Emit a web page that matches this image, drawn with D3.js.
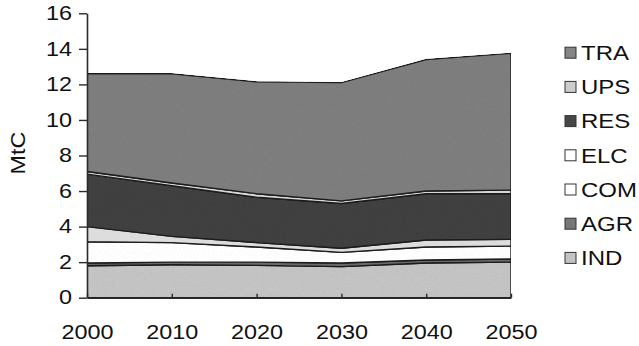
<!DOCTYPE html>
<html>
<head>
<meta charset="utf-8">
<script src="https://cdn.jsdelivr.net/npm/d3@7"></script>
<style>
  body { margin: 0; background: #fff; }
  text { font-family: "Liberation Sans", Arial, Helvetica, sans-serif; fill: #111; }
</style>
</head>
<body>
<svg id="chart" width="639" height="346"></svg>
<script>
// years on the x axis
var years = [2000, 2010, 2020, 2030, 2040, 2050];
// stacking order, bottom to top
var sectors = ["IND", "AGR", "COM", "ELC", "RES", "UPS", "TRA"];
// MtC per sector
var IND = [1.80, 1.85, 1.82, 1.75, 1.95, 2.00];
var AGR = [0.15, 0.15, 0.18, 0.20, 0.17, 0.18];
var COM = [1.20, 1.10, 0.85, 0.60, 0.73, 0.72];
var ELC = [0.85, 0.35, 0.25, 0.23, 0.40, 0.38];
var RES = [2.95, 2.85, 2.55, 2.52, 2.60, 2.57];
var UPS = [0.15, 0.15, 0.20, 0.15, 0.15, 0.20];
var TRA = [5.50, 6.15, 6.30, 6.65, 7.40, 7.70];
var yTicks = [0, 2, 4, 6, 8, 10, 12, 14, 16];

var series = {IND: IND, AGR: AGR, COM: COM, ELC: ELC, RES: RES, UPS: UPS, TRA: TRA};
var data = years.map(function(yr, i) {
	var row = {year: yr};
	sectors.forEach(function(k) { row[k] = series[k][i]; });
	return row;
});

var fills = {
	IND: "#c4c4c4", AGR: "#6a6a6a", COM: "#ffffff", ELC: "#dedede",
	RES: "#404040", UPS: "#d8d8d8", TRA: "#7e7e7e"
};
var legendFills = {
	IND: "#c4c4c4", AGR: "#777777", COM: "#ffffff", ELC: "#ffffff",
	RES: "#474747", UPS: "#cccccc", TRA: "#858585"
};
var stretch = 1.2;

var svg = d3.select("#chart");

// light speckle like the scanned original
var defs = svg.append("defs");
var grain = defs.append("filter").attr("id", "grain")
	.attr("x", 0).attr("y", 0).attr("width", "100%").attr("height", "100%");
grain.append("feTurbulence")
	.attr("type", "fractalNoise").attr("baseFrequency", 0.9)
	.attr("numOctaves", 1).attr("seed", 4).attr("result", "noise");
grain.append("feColorMatrix")
	.attr("in", "noise").attr("type", "saturate").attr("values", 0).attr("result", "gray");
var ct = grain.append("feComponentTransfer").attr("in", "gray").attr("result", "soft");
["feFuncR", "feFuncG", "feFuncB"].forEach(function(f) {
	ct.append(f).attr("type", "linear").attr("slope", 0.35).attr("intercept", 0.82);
});
ct.append("feFuncA").attr("type", "linear").attr("slope", 0).attr("intercept", 1);
grain.append("feBlend")
	.attr("in", "SourceGraphic").attr("in2", "soft").attr("mode", "multiply").attr("result", "mix");
grain.append("feComposite")
	.attr("in", "mix").attr("in2", "SourceAlpha").attr("operator", "in");

var x = d3.scaleLinear().domain([2000, 2050]).range([87, 511]);
var y = d3.scaleLinear().domain([0, 16]).range([297.7, 13.3]);

var stack = d3.stack().keys(sectors);
var layers = stack(data);

var area = d3.area()
	.x(d => x(d.data.year))
	.y0(d => y(d[0]))
	.y1(d => y(d[1]));

svg.append("g")
	.attr("filter", "url(#grain)")
	.selectAll("path")
	.data(layers)
	.enter().append("path")
	.attr("d", area)
	.attr("fill", d => fills[d.key])
	.attr("stroke", "#1c1c1c")
	.attr("stroke-width", 1.4)
	.attr("stroke-linejoin", "round");

// y axis
var yAxis = svg.append("g")
	.attr("transform", "translate(" + x(2000) + ",0)")
	.call(d3.axisLeft(y).tickValues(yTicks).tickSizeInner(8).tickSizeOuter(0).tickPadding(7));

// x axis
var xAxis = svg.append("g")
	.attr("transform", "translate(0," + y(0) + ")")
	.call(d3.axisBottom(x).tickValues(years).tickFormat(d3.format("d"))
		.tickSizeInner(-4).tickSizeOuter(0).tickPadding(27));

[yAxis, xAxis].forEach(function(ax) {
	ax.select(".domain").attr("stroke", "#2a2a2a").attr("stroke-width", 1.6);
	ax.selectAll(".tick line").attr("stroke", "#2a2a2a").attr("stroke-width", 1.4);
	ax.selectAll(".tick text")
		.attr("font-size", 19.5)
		.attr("font-family", null)
		.attr("fill", "#111");
});
yAxis.selectAll(".tick text")
	.attr("x", -15 / stretch)
	.attr("transform", "scale(" + stretch + ",1)");
xAxis.selectAll(".tick text")
	.attr("transform", "scale(" + stretch + ",1)");

// axis title
svg.append("text")
	.attr("transform", "translate(25,153) rotate(-90) scale(" + stretch + ",1)")
	.attr("text-anchor", "middle")
	.attr("font-size", 19.5)
	.text("MtC");

// legend, top to bottom is reverse stacking order
var legendKeys = sectors.slice().reverse();
var legend = svg.append("g")
	.selectAll("g")
	.data(legendKeys)
	.enter().append("g")
	.attr("transform", (d, i) => "translate(565," + (52.7 + i * 34.2) + ")");

legend.append("rect")
	.attr("x", 0).attr("y", -5.5)
	.attr("width", 11).attr("height", 11)
	.attr("fill", d => legendFills[d])
	.attr("stroke", "#333")
	.attr("stroke-width", 1);

legend.append("text")
	.attr("transform", "translate(16,0) scale(" + stretch + ",1)")
	.attr("dy", "0.36em")
	.attr("font-size", 20)
	.text(d => d);
</script>
</body>
</html>
